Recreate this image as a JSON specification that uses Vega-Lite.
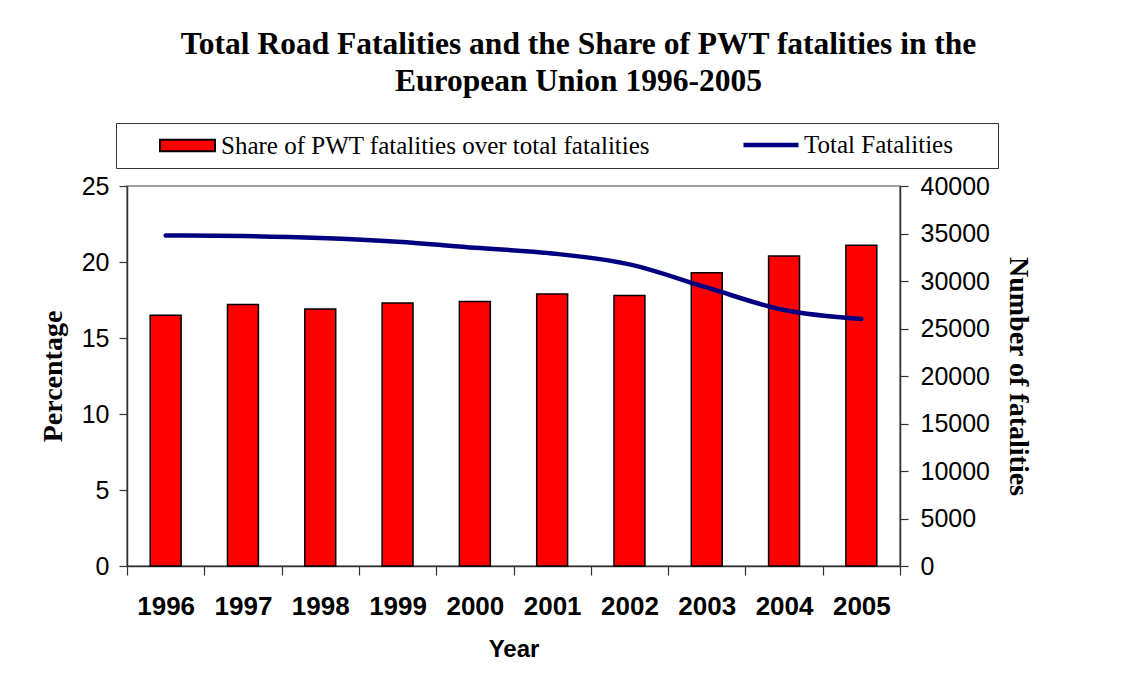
{
  "$schema": "https://vega.github.io/schema/vega-lite/v6.json",
  "width": 773,
  "height": 380,
  "autosize": {"type": "none"},
  "padding": {"left": 127, "top": 186, "right": 224, "bottom": 127},
  "background": "white",
  "title": {
    "text": ["Total Road Fatalities and the Share of PWT fatalities in the", "European Union 1996-2005"],
    "font": "Liberation Serif",
    "fontSize": 31.5,
    "fontWeight": "bold",
    "lineHeight": 37,
    "color": "#000",
    "anchor": "middle",
    "frame": "group",
    "dx": 65,
    "offset": 18
  },
  "config": {
    "view": {"stroke": "#808080", "strokeWidth": 1.5},
    "axis": {"grid": false, "domainColor": "#333", "tickColor": "#333", "domainWidth": 1.5, "tickWidth": 1.2}
  },
  "data": {
    "values": [
      {"Year": "1996", "Share": 16.5, "Total": 34800},
      {"Year": "1997", "Share": 17.2, "Total": 34730},
      {"Year": "1998", "Share": 16.9, "Total": 34520},
      {"Year": "1999", "Share": 17.3, "Total": 34130},
      {"Year": "2000", "Share": 17.4, "Total": 33500},
      {"Year": "2001", "Share": 17.9, "Total": 32900},
      {"Year": "2002", "Share": 17.8, "Total": 31750},
      {"Year": "2003", "Share": 19.3, "Total": 29320},
      {"Year": "2004", "Share": 20.4, "Total": 26940},
      {"Year": "2005", "Share": 21.1, "Total": 25990}
    ]
  },
  "encoding": {
    "x": {
      "field": "Year",
      "type": "ordinal",
      "scale": {"paddingInner": 0, "paddingOuter": 0},
      "axis": {
        "title": "Year",
        "titleFont": "Liberation Sans",
        "titleFontSize": 24,
        "titleFontWeight": "bold",
        "titleColor": "#000",
        "titlePadding": 18,
        "labelFont": "Liberation Sans",
        "labelFontSize": 26,
        "labelFontWeight": "bold",
        "labelColor": "#000",
        "labelAngle": 0,
        "labelPadding": 18,
        "tickBand": "extent",
        "tickSize": 9
      }
    }
  },
  "layer": [
    {
      "mark": {"type": "bar", "width": {"band": 0.4}, "stroke": "#000", "strokeWidth": 1.5},
      "encoding": {
        "y": {
          "field": "Share",
          "type": "quantitative",
          "scale": {"domain": [0, 25], "nice": false},
          "axis": {
            "title": "Percentage",
            "values": [0, 5, 10, 15, 20, 25],
            "titleFont": "Liberation Serif",
            "titleFontSize": 28,
            "titleFontWeight": "bold",
            "titleColor": "#000",
            "titlePadding": 14,
            "labelFont": "Liberation Sans",
            "labelFontSize": 25,
            "labelColor": "#000",
            "labelPadding": 10,
            "tickSize": 8
          }
        },
        "fill": {
          "datum": "Share of PWT fatalities over total fatalities",
          "type": "nominal",
          "scale": {"range": ["#FF0000"]},
          "legend": {
            "orient": "none",
            "legendX": -11,
            "legendY": -63,
            "zindex": 1,
            "direction": "horizontal",
            "title": "\u00a0",
            "titleOrient": "right",
            "titlePadding": 339,
            "titleFontSize": 25,
            "titleFont": "Liberation Serif",
            "strokeColor": "#333",
            "fillColor": "white",
            "padding": 9,
            "labelFont": "Liberation Serif",
            "labelFontSize": 25,
            "labelColor": "#000",
            "labelLimit": 0,
            "symbolType": "M-2.2,-0.46H2.2V0.46H-2.2Z",
            "symbolSize": 625,
            "symbolStrokeColor": "#000",
            "symbolStrokeWidth": 2,
            "symbolOffset": 49,
            "labelOffset": 20
          }
        }
      }
    },
    {
      "mark": {"type": "line", "strokeWidth": 4.5, "interpolate": "monotone", "strokeCap": "round"},
      "encoding": {
        "y": {
          "field": "Total",
          "type": "quantitative",
          "scale": {"domain": [0, 40000], "nice": false},
          "axis": {
            "orient": "right",
            "title": "Number of fatalities",
            "titleAngle": 90,
            "values": [0, 5000, 10000, 15000, 20000, 25000, 30000, 35000, 40000],
            "format": "d",
            "titleFont": "Liberation Serif",
            "titleFontSize": 28,
            "titleFontWeight": "bold",
            "titleColor": "#000",
            "titlePadding": 14,
            "labelFont": "Liberation Sans",
            "labelFontSize": 25,
            "labelColor": "#000",
            "labelPadding": 12,
            "tickSize": 8
          }
        },
        "stroke": {
          "datum": "Total Fatalities",
          "type": "nominal",
          "scale": {"range": ["#000080"]},
          "legend": {
            "orient": "none",
            "legendX": 614,
            "legendY": -71,
            "zindex": 2,
            "direction": "horizontal",
            "title": null,
            "padding": 0,
            "labelFont": "Liberation Serif",
            "labelFontSize": 25,
            "labelColor": "#000",
            "labelLimit": 0,
            "symbolType": "stroke",
            "symbolSize": 3025,
            "symbolStrokeWidth": 4.5,
            "symbolOffset": 0,
            "labelOffset": 3
          }
        }
      }
    }
  ],
  "resolve": {"scale": {"y": "independent"}}
}
